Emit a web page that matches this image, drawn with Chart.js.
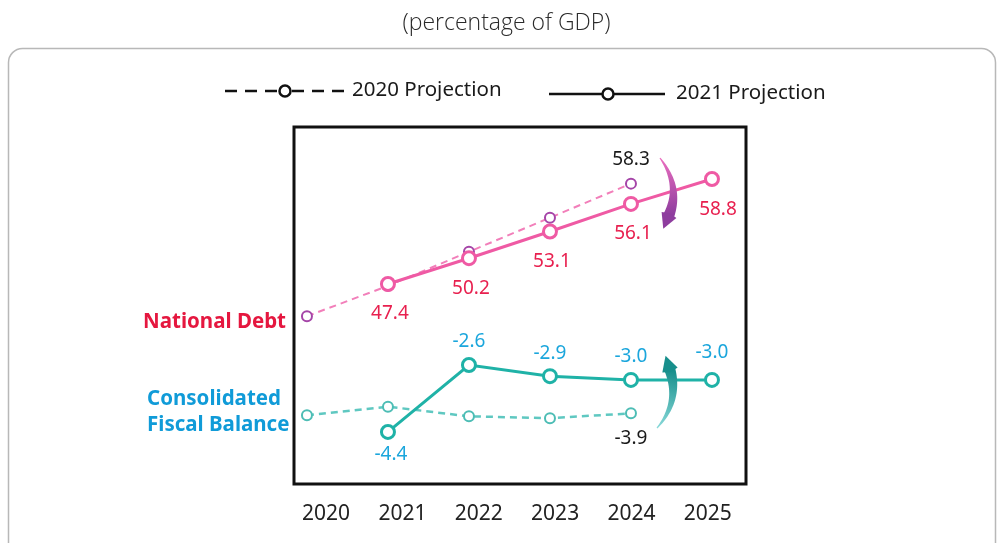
<!DOCTYPE html>
<html><head><meta charset="utf-8">
<script src="https://cdn.jsdelivr.net/npm/chart.js@4.4.1/dist/chart.umd.min.js"></script>
<style>html,body{margin:0;padding:0;background:#fff;}#wrap{position:relative;width:999px;height:543px;}</style>
</head><body><div id="wrap"><canvas id="c" width="999" height="543"></canvas></div>
<script>
// ---- data ----
const years = [2020, 2021, 2022, 2023, 2024, 2025];
const yearLabels = ['2020', '2021', '2022', '2023', '2024', '2025'];
const debt2020 = [43.9, 47.2, 50.9, 54.6, 58.3];          // 2020 Projection, 2020-2024
const debt2021 = [null, 47.4, 50.2, 53.1, 56.1, 58.8];    // 2021 Projection
const bal2020 = [-3.95, -3.72, -3.98, -4.03, -3.9];       // 2020 Projection, 2020-2024
const bal2021 = [null, -4.4, -2.6, -2.9, -3.0, -3.0];     // 2021 Projection
const titleText = '(percentage of GDP)';
const legendTexts = ['2020 Projection', '2021 Projection'];
const sideDebt = 'National Debt';
const sideBal = ['Consolidated', 'Fiscal Balance'];

const toPts = arr => arr.map((v, i) => v == null ? null : { x: years[i], y: v }).filter(p => p);

const FONT = "'Noto Sans', 'DejaVu Sans', sans-serif";

function drawArrow(ctx, p0, p1, p2, tipLen, headW, maxW, c0, c1) {
  const N = 30, L = [], R = [];
  const bez = t => ({
    x: (1 - t) * (1 - t) * p0[0] + 2 * (1 - t) * t * p1[0] + t * t * p2[0],
    y: (1 - t) * (1 - t) * p0[1] + 2 * (1 - t) * t * p1[1] + t * t * p2[1]
  });
  const der = t => ({
    x: 2 * (1 - t) * (p1[0] - p0[0]) + 2 * t * (p2[0] - p1[0]),
    y: 2 * (1 - t) * (p1[1] - p0[1]) + 2 * t * (p2[1] - p1[1])
  });
  for (let i = 0; i <= N; i++) {
    const t = i / N, p = bez(t), d = der(t);
    const len = Math.hypot(d.x, d.y);
    const nx = -d.y / len, ny = d.x / len;
    const w = 0.6 + (maxW - 0.6) * t;
    L.push([p.x + nx * w, p.y + ny * w]);
    R.push([p.x - nx * w, p.y - ny * w]);
  }
  const g = ctx.createLinearGradient(p0[0], p0[1], p2[0], p2[1]);
  g.addColorStop(0, c0); g.addColorStop(1, c1);
  ctx.save();
  ctx.fillStyle = g;
  ctx.beginPath();
  ctx.moveTo(L[0][0], L[0][1]);
  L.forEach(p => ctx.lineTo(p[0], p[1]));
  for (let i = R.length - 1; i >= 0; i--) ctx.lineTo(R[i][0], R[i][1]);
  ctx.closePath(); ctx.fill();
  const d = der(1), len = Math.hypot(d.x, d.y);
  const tx = d.x / len, ty = d.y / len, nx = -ty, ny = tx;
  ctx.beginPath();
  ctx.moveTo(p2[0] + tx * tipLen, p2[1] + ty * tipLen);
  ctx.lineTo(p2[0] + nx * headW, p2[1] + ny * headW);
  ctx.lineTo(p2[0] - tx * 2, p2[1] - ty * 2);
  ctx.lineTo(p2[0] - nx * headW, p2[1] - ny * headW);
  ctx.closePath();
  ctx.fillStyle = c1; ctx.fill();
  ctx.restore();
}

const decor = {
  id: 'decor',
  beforeDraw(chart) {
    const ctx = chart.ctx;
    ctx.save();
    ctx.fillStyle = '#fff';
    ctx.fillRect(0, 0, chart.width, chart.height);
    // rounded outer frame
    ctx.strokeStyle = '#b8b8b8'; ctx.lineWidth = 1.5;
    const x = 8.5, y = 48.5, w = 987, r = 14, b = 560;
    ctx.beginPath();
    ctx.moveTo(x, b); ctx.lineTo(x, y + r);
    ctx.arcTo(x, y, x + r, y, r);
    ctx.lineTo(x + w - r, y);
    ctx.arcTo(x + w, y, x + w, y + r, r);
    ctx.lineTo(x + w, b);
    ctx.stroke();
    ctx.restore();
  },
  afterDatasetsDraw(chart) {
    const ctx = chart.ctx, a = chart.chartArea;
    ctx.save();
    // plot box
    ctx.strokeStyle = '#111'; ctx.lineWidth = 3;
    ctx.strokeRect(a.left, a.top, a.right - a.left, a.bottom - a.top);

    // arrows
    drawArrow(ctx, [660, 158], [681, 186], [669, 215], 15, 8, 5.5, '#ec6fc0', '#8e3d9e');
    drawArrow(ctx, [657, 428], [680, 402], [670, 370], 15, 8, 5.5, '#8adada', '#178f8c');

    // data labels
    const xs = chart.scales.x;
    const specs = [
      { data: debt2021, axis: 'yD', idx: [1, 2, 3, 4], dy: 30, dx: 2, color: '#e8204f' },
      { data: debt2021, axis: 'yD', idx: [5], dy: 31, dx: 6, color: '#e8204f' },
      { data: debt2020, axis: 'yD', idx: [4], dy: -24, dx: 0, color: '#1a1a1a' },
      { data: bal2021, axis: 'yB', idx: [2, 3, 4], dy: -23, dx: 0, color: '#1ba6dc' },
      { data: bal2021, axis: 'yB', idx: [5], dy: -27, dx: 0, color: '#1ba6dc' },
      { data: bal2021, axis: 'yB', idx: [1], dy: 23, dx: 3, color: '#1ba6dc' },
      { data: bal2020, axis: 'yB', idx: [4], dy: 25, dx: 0, color: '#1a1a1a' }
    ];
    ctx.font = '19px ' + FONT;
    ctx.textAlign = 'center'; ctx.textBaseline = 'middle';
    specs.forEach(s => {
      const ys = chart.scales[s.axis];
      s.idx.forEach(i => {
        const v = s.data[i];
        ctx.fillStyle = s.color;
        ctx.fillText(v.toFixed(1), xs.getPixelForValue(years[i]) + s.dx, ys.getPixelForValue(v) + s.dy);
      });
    });

    // side labels
    ctx.font = 'bold 20.5px ' + FONT;
    ctx.fillStyle = '#e5173f'; ctx.textAlign = 'right';
    ctx.fillText(sideDebt, 286, 322);
    ctx.fillStyle = '#109bd8'; ctx.textAlign = 'left';
    ctx.fillText(sideBal[0], 147, 399);
    ctx.fillText(sideBal[1], 147, 425);

    // legend
    ctx.strokeStyle = '#111'; ctx.lineWidth = 2.5;
    ctx.setLineDash([12, 8]);
    ctx.beginPath(); ctx.moveTo(225, 91); ctx.lineTo(278, 91); ctx.stroke();
    ctx.beginPath(); ctx.moveTo(292, 91); ctx.lineTo(347, 91); ctx.stroke();
    ctx.setLineDash([]);
    ctx.beginPath(); ctx.arc(285, 91, 5.5, 0, Math.PI * 2); ctx.fillStyle = '#fff'; ctx.fill(); ctx.stroke();
    ctx.beginPath(); ctx.moveTo(549, 94); ctx.lineTo(665, 94); ctx.stroke();
    ctx.beginPath(); ctx.arc(608, 94, 5.5, 0, Math.PI * 2); ctx.fillStyle = '#fff'; ctx.fill(); ctx.stroke();
    ctx.font = '20.5px ' + FONT; ctx.fillStyle = '#1a1a1a'; ctx.textAlign = 'left';
    ctx.fillText(legendTexts[0], 352, 90);
    ctx.fillText(legendTexts[1], 676, 93);
    ctx.restore();
  }
};

new Chart(document.getElementById('c'), {
  type: 'line',
  data: {
    datasets: [
      { label: '2021 Projection (National Debt)', data: toPts(debt2021), yAxisID: 'yD', xAxisID: 'x',
        borderColor: '#ef5aa4', borderWidth: 3, pointRadius: 6.5, pointBorderWidth: 3,
        pointBorderColor: '#ef5aa4', pointBackgroundColor: '#fff', tension: 0 },
      { label: '2021 Projection (Consolidated Fiscal Balance)', data: toPts(bal2021), yAxisID: 'yB', xAxisID: 'x',
        borderColor: '#1fb2a7', borderWidth: 3, pointRadius: 6.5, pointBorderWidth: 3,
        pointBorderColor: '#1fb2a7', pointBackgroundColor: '#fff', tension: 0 },
      { label: '2020 Projection (National Debt)', data: toPts(debt2020), yAxisID: 'yD', xAxisID: 'x',
        borderColor: '#f27fba', borderWidth: 2, borderDash: [7, 5], pointRadius: 5, pointBorderWidth: 2,
        pointBorderColor: '#a545a8', pointBackgroundColor: '#fff', tension: 0 },
      { label: '2020 Projection (Consolidated Fiscal Balance)', data: toPts(bal2020), yAxisID: 'yB', xAxisID: 'x',
        borderColor: '#5fc8c1', borderWidth: 2.5, borderDash: [7, 5], pointRadius: 5, pointBorderWidth: 2,
        pointBorderColor: '#4dbdb5', pointBackgroundColor: '#fff', tension: 0 }
    ]
  },
  options: {
    responsive: false,
    animation: false,
    layout: { padding: { left: 14, right: 0, top: 0, bottom: 0 } },
    plugins: {
      legend: { display: false },
      tooltip: { enabled: false },
      title: {
        display: true, text: titleText, color: '#2a2a2a',
        font: { family: "'Open Sans', sans-serif", weight: 300, size: 23 },
        padding: { top: 10, bottom: 89.4 }
      }
    },
    scales: {
      x: { type: 'linear', min: 2019.84, max: 2025.42, display: false },
      xl: {
        type: 'linear', position: 'bottom', min: 2019.58, max: 2025.5,
        grid: { display: false }, border: { display: false },
        ticks: { autoSkip: false, maxRotation: 0, padding: 9, color: '#222',
          font: { family: FONT, size: 21 },
          callback: (v, i) => yearLabels[i] },
        afterBuildTicks: s => { s.ticks = years.map(v => ({ value: v })); },
        afterFit: s => { s.height = 59; }
      },
      yD: { position: 'left', min: 25.68, max: 64.45,
        grid: { display: false }, border: { display: false }, ticks: { display: false },
        afterFit: s => { s.width = 280; } },
      yB: { position: 'right', min: -5.8, max: 3.8,
        grid: { display: false }, border: { display: false }, ticks: { display: false },
        afterFit: s => { s.width = 253; } }
    }
  },
  plugins: [decor]
});
</script>
</body></html>
